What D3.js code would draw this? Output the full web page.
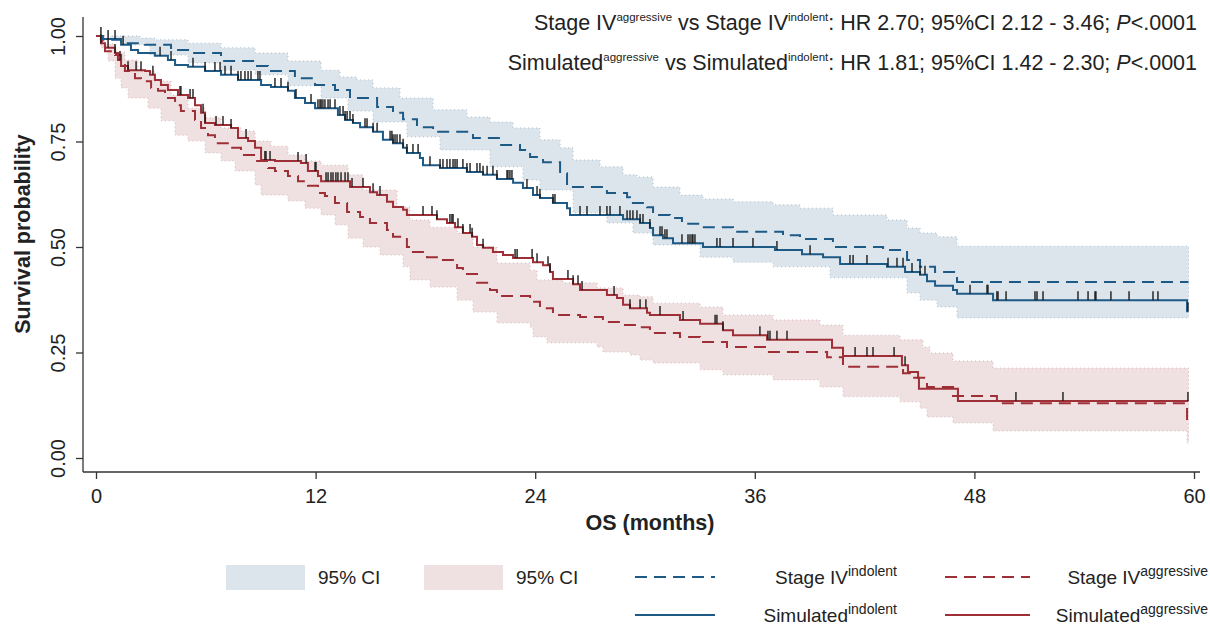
<!DOCTYPE html>
<html>
<head>
<meta charset="utf-8">
<script src="https://cdn.jsdelivr.net/npm/d3@7"></script>
<style>
  body { margin: 0; background: #fff; }
  svg { display: block; font-family: "Liberation Sans", Arial, Helvetica, sans-serif; }
</style>
</head>
<body>
<svg width="1210" height="625"></svg>
<script>
// [months, survival] step points
const stageIVIndolent = [
  [0, 1], [0.27, 0.991], [1.37, 0.983], [2.68, 0.979], [4.10, 0.967], [5.19, 0.960], [6.83, 0.941],
  [8.69, 0.929], [9.40, 0.917], [10.87, 0.900], [11.97, 0.884], [13.06, 0.872], [13.88, 0.853],
  [15.36, 0.832], [16.23, 0.818], [16.78, 0.803], [17.54, 0.784], [18.42, 0.773], [20.60, 0.758],
  [22.08, 0.742], [23.17, 0.730], [23.72, 0.713], [24.43, 0.701], [25.36, 0.675], [25.74, 0.642],
  [27.92, 0.628], [29.02, 0.618], [29.18, 0.604], [30.11, 0.594], [30.44, 0.576], [31.37, 0.569],
  [32.02, 0.555], [33.01, 0.547], [34.81, 0.536], [37.54, 0.528], [38.47, 0.519], [40.27, 0.500],
  [43.01, 0.493], [44.32, 0.469], [45.03, 0.453], [45.85, 0.441], [47.05, 0.417], [59.7, 0.417]
];
const indolentUpper = [
  [0, 1], [2.40, 0.995], [3.22, 0.991], [5.03, 0.983], [6.83, 0.972], [8.69, 0.960], [10.49, 0.941],
  [12.30, 0.919], [13.33, 0.903], [14.26, 0.896], [15.14, 0.877], [16.61, 0.853], [18.42, 0.825],
  [20.27, 0.808], [21.53, 0.796], [22.79, 0.782], [24.26, 0.754], [25.36, 0.735], [26.07, 0.706],
  [27.54, 0.690], [28.80, 0.671], [29.56, 0.666], [30.44, 0.642], [31.91, 0.623], [33.17, 0.614],
  [34.81, 0.607], [37.00, 0.600], [38.47, 0.592], [40.27, 0.576], [43.22, 0.564], [44.32, 0.545],
  [45.03, 0.533], [45.96, 0.524], [47.05, 0.502], [59.7, 0.502]
];
const indolentLower = [
  [0, 1], [0.77, 0.991], [1.37, 0.979], [2.95, 0.955], [5.03, 0.936], [6.83, 0.919], [8.69, 0.908],
  [10.49, 0.882], [12.30, 0.853], [13.77, 0.822], [15.14, 0.796], [16.99, 0.761], [18.80, 0.730],
  [21.53, 0.690], [23.33, 0.659], [24.26, 0.635], [26.07, 0.581], [27.92, 0.557], [29.34, 0.533],
  [30.44, 0.505], [33.01, 0.476], [34.81, 0.464], [37.00, 0.453], [40.11, 0.427], [44.32, 0.391],
  [45.03, 0.374], [45.96, 0.358], [47.05, 0.332], [59.7, 0.332]
];
const simulatedIndolent = [
  [0, 1], [0.38, 0.993], [1.37, 0.979], [1.91, 0.967], [2.30, 0.960], [3.22, 0.953], [3.93, 0.943],
  [4.32, 0.931], [5.03, 0.927], [5.96, 0.917], [6.83, 0.908], [7.76, 0.896], [9.02, 0.884],
  [9.56, 0.879], [10.49, 0.870], [10.87, 0.853], [11.42, 0.841], [11.97, 0.829], [13.22, 0.813],
  [13.61, 0.801], [14.04, 0.794], [14.43, 0.784], [15.14, 0.773], [15.68, 0.754], [16.23, 0.746],
  [16.78, 0.735], [16.99, 0.723], [17.70, 0.711], [17.87, 0.694], [18.80, 0.687], [20.27, 0.678],
  [21.15, 0.671], [21.91, 0.661], [22.79, 0.652], [23.33, 0.640], [23.88, 0.623], [24.26, 0.616],
  [24.97, 0.604], [25.74, 0.592], [25.90, 0.576], [28.80, 0.566], [29.73, 0.557], [30.27, 0.545],
  [30.44, 0.528], [30.98, 0.521], [31.53, 0.509], [33.17, 0.500], [37.10, 0.493], [38.58, 0.483],
  [39.73, 0.476], [40.66, 0.460], [43.22, 0.453], [44.21, 0.441], [45.03, 0.434], [45.41, 0.419],
  [45.85, 0.408], [46.83, 0.398], [47.05, 0.389], [49.02, 0.374], [59.62, 0.348], [59.7, 0.348]
];
const stageIVAggressive = [
  [0, 1], [0.33, 0.979], [0.49, 0.964], [1.04, 0.955], [1.37, 0.941], [1.58, 0.917], [2.13, 0.900],
  [2.46, 0.893], [3.01, 0.877], [3.39, 0.870], [3.77, 0.853], [4.32, 0.836], [4.64, 0.822],
  [5.41, 0.801], [5.74, 0.782], [6.12, 0.765], [6.50, 0.746], [7.38, 0.735], [7.92, 0.718],
  [8.69, 0.704], [9.40, 0.687], [9.78, 0.680], [10.49, 0.668], [11.04, 0.656], [11.58, 0.645],
  [12.13, 0.628], [12.51, 0.621], [13.06, 0.604], [13.72, 0.583], [14.43, 0.571], [14.97, 0.557],
  [15.90, 0.540], [16.23, 0.524], [16.99, 0.500], [17.32, 0.488], [18.09, 0.476], [18.96, 0.469],
  [19.73, 0.450], [20.05, 0.436], [20.82, 0.415], [21.53, 0.398], [21.91, 0.384], [23.72, 0.370],
  [24.26, 0.355], [24.97, 0.339], [26.45, 0.334], [27.70, 0.322], [28.80, 0.315], [29.56, 0.310],
  [30.27, 0.296], [31.91, 0.287], [33.01, 0.275], [34.48, 0.263], [36.67, 0.251], [39.95, 0.239],
  [40.82, 0.216], [44.10, 0.201], [44.64, 0.190], [45.41, 0.168], [46.83, 0.147], [49.23, 0.130],
  [59.62, 0.090], [59.7, 0.090]
];
const aggressiveUpper = [
  [0, 1], [0.49, 0.981], [1.04, 0.962], [1.58, 0.943], [2.30, 0.917], [3.22, 0.893], [4.10, 0.860],
  [5.03, 0.829], [5.96, 0.806], [6.83, 0.782], [7.92, 0.775], [8.69, 0.751], [9.56, 0.739],
  [10.49, 0.718], [11.42, 0.704], [12.30, 0.694], [13.77, 0.671], [14.59, 0.635], [16.45, 0.595],
  [17.16, 0.564], [18.25, 0.547], [19.73, 0.533], [20.60, 0.500], [21.91, 0.462], [23.72, 0.445],
  [24.10, 0.422], [25.52, 0.415], [27.38, 0.403], [28.80, 0.386], [29.73, 0.382], [30.44, 0.367],
  [33.01, 0.358], [34.26, 0.339], [37.00, 0.327], [39.56, 0.315], [40.82, 0.291], [43.93, 0.280],
  [45.19, 0.263], [45.57, 0.249], [46.83, 0.230], [49.02, 0.213], [59.7, 0.213]
];
const aggressiveLower = [
  [0, 1], [0.27, 0.972], [0.66, 0.941], [1.04, 0.900], [1.37, 0.877], [1.75, 0.853], [2.84, 0.829],
  [3.55, 0.799], [4.32, 0.765], [5.03, 0.751], [5.96, 0.723], [6.83, 0.704], [7.60, 0.680],
  [8.69, 0.647], [9.02, 0.623], [10.49, 0.609], [11.42, 0.592], [12.30, 0.576], [13.06, 0.552],
  [13.77, 0.521], [14.59, 0.500], [15.52, 0.481], [16.78, 0.453], [17.16, 0.422], [18.25, 0.405],
  [19.73, 0.374], [20.60, 0.346], [21.91, 0.320], [23.72, 0.310], [23.88, 0.287], [24.64, 0.273],
  [27.38, 0.263], [27.70, 0.251], [29.18, 0.244], [29.73, 0.232], [30.44, 0.225], [33.01, 0.209],
  [34.26, 0.197], [37.00, 0.185], [39.56, 0.168], [40.82, 0.145], [43.93, 0.133], [45.03, 0.118],
  [45.41, 0.097], [46.83, 0.083], [49.02, 0.064], [59.62, 0.036], [59.7, 0.036]
];
const simulatedAggressive = [
  [0, 1], [0.27, 0.983], [0.49, 0.972], [1.04, 0.960], [1.20, 0.943], [1.37, 0.929], [1.75, 0.919],
  [2.68, 0.917], [2.95, 0.908], [3.22, 0.896], [3.55, 0.884], [3.93, 0.872], [4.48, 0.860],
  [5.03, 0.853], [5.41, 0.836], [5.74, 0.818], [5.96, 0.794], [6.50, 0.789], [7.38, 0.782],
  [7.76, 0.758], [8.31, 0.751], [8.69, 0.735], [9.02, 0.706], [9.78, 0.704], [11.20, 0.699],
  [11.58, 0.680], [12.13, 0.668], [12.30, 0.656], [13.88, 0.642], [14.97, 0.630], [15.36, 0.623],
  [15.90, 0.607], [16.23, 0.595], [16.78, 0.588], [16.99, 0.576], [18.63, 0.566], [19.18, 0.557],
  [19.62, 0.547], [20.05, 0.533], [20.55, 0.524], [20.82, 0.505], [21.15, 0.498], [21.69, 0.488],
  [22.24, 0.481], [22.79, 0.474], [23.88, 0.464], [24.43, 0.457], [24.81, 0.441], [24.97, 0.424],
  [26.07, 0.412], [26.45, 0.398], [27.92, 0.386], [28.47, 0.379], [28.80, 0.363], [29.18, 0.355],
  [30.11, 0.344], [30.27, 0.339], [31.91, 0.327], [33.01, 0.318], [34.26, 0.303], [34.81, 0.291],
  [36.67, 0.280], [40.22, 0.261], [40.82, 0.242], [44.04, 0.220], [44.37, 0.204], [44.92, 0.190],
  [44.97, 0.164], [47.10, 0.135], [59.7, 0.135]
];
// censoring times (months)
const censorIndolent = [
  0.27, 0.66, 1.04, 1.48, 3.50, 4.10, 5.30, 5.96, 6.50, 6.78, 7.05, 7.38, 7.76, 7.92, 8.14, 8.31, 8.47,
  8.85, 8.96, 9.78, 10.11, 10.49, 10.93, 11.75, 12.13, 12.24, 12.30, 12.40, 12.51, 12.68, 12.79, 13.06,
  13.33, 13.50, 13.61, 13.72, 13.88, 14.04, 14.70, 14.81, 15.14, 15.36, 16.07, 16.17, 16.23, 16.34,
  16.45, 16.61, 16.78, 16.99, 17.32, 17.60, 18.25, 18.80, 18.96, 19.18, 19.34, 19.51, 19.62, 19.73,
  20.05, 20.27, 20.44, 20.82, 20.98, 21.15, 21.37, 21.69, 21.91, 22.46, 22.51, 22.62, 22.73, 23.55,
  24.10, 24.26, 24.97, 25.08, 26.45, 26.83, 27.54, 27.92, 28.09, 28.63, 29.02, 29.18, 29.34, 29.56,
  29.73, 29.89, 30.27, 30.82, 30.93, 31.09, 31.20, 32.02, 32.35, 32.46, 32.57, 32.62, 32.73, 33.93,
  34.10, 34.81, 35.90, 37.21, 39.02, 41.20, 41.37, 42.13, 43.28, 43.77, 44.10, 44.59, 45.03, 45.30,
  47.76, 48.69, 48.74, 49.23, 49.29, 49.73, 51.31, 51.42, 51.75, 53.66, 54.21, 54.59, 54.64, 55.46,
  56.45, 57.76, 58.03, 59.67
];
const censorAggressive = [
  0.27, 0.66, 1.04, 1.31, 1.75, 2.19, 2.46, 3.11, 4.59, 4.64, 5.14, 5.30, 5.85, 5.96, 6.56, 6.94, 7.38,
  8.20, 9.23, 9.29, 9.51, 11.04, 11.48, 11.97, 12.02, 12.57, 12.68, 12.84, 12.95, 13.11, 13.22, 13.39,
  13.61, 13.77, 13.99, 14.59, 15.14, 15.52, 17.87, 18.36, 18.63, 19.34, 19.45, 19.51, 19.78, 20.05,
  20.44, 20.55, 21.15, 22.90, 23.01, 23.83, 24.10, 24.70, 24.81, 25.79, 26.07, 26.34, 26.56, 28.31,
  29.18, 29.73, 30.05, 30.82, 32.08, 33.83, 33.93, 34.26, 36.28, 36.72, 36.83, 37.21, 37.76, 41.48,
  42.13, 42.46, 43.61, 44.21, 50.27, 52.84, 59.67
];
const xTicks = [0, 12, 24, 36, 48, 60];
const yTicks = [0, 0.25, 0.5, 0.75, 1];

const blue = '#1d5a86';
const red = '#9e2f37';
const font = '"Liberation Sans", Arial, Helvetica, sans-serif';

const svg = d3.select('svg');

const x = d3.scaleLinear().domain([0, 60]).range([96, 1194]);
const y = d3.scaleLinear().domain([0, 1]).range([458, 36]);

const stepAt = (arr, t) => {
  let v = arr[0][1];
  for (const p of arr) { if (p[0] <= t + 1e-9) v = p[1]; else break; }
  return v;
};

const bandOf = (upper, lower) => {
  const times = Array.from(new Set(upper.map(d => d[0]).concat(lower.map(d => d[0])))).sort((a, b) => a - b);
  return times.map(t => ({ t, hi: stepAt(upper, t), lo: stepAt(lower, t) }));
};

const area = d3.area()
    .curve(d3.curveStepAfter)
    .x(d => x(d.t))
    .y0(d => y(d.lo))
    .y1(d => y(d.hi));

const line = d3.line()
    .curve(d3.curveStepAfter)
    .x(d => x(d[0]))
    .y(d => y(d[1]));

// bands
const bands = [
  { data: bandOf(indolentUpper, indolentLower), fill: '#dde5ec', stroke: '#a9bccb' },
  { data: bandOf(aggressiveUpper, aggressiveLower), fill: '#efe0e1', stroke: '#dbb3b6' }
];
svg.selectAll('path.band').data(bands).enter().append('path')
    .attr('class', 'band')
    .attr('d', d => area(d.data))
    .attr('fill', d => d.fill)
    .attr('stroke', d => d.stroke)
    .attr('stroke-width', 1)
    .attr('stroke-dasharray', '1,3');

// curves
const curves = [
  { data: stageIVIndolent, color: blue, dash: '12,7' },
  { data: stageIVAggressive, color: red, dash: '12,7' },
  { data: simulatedIndolent, color: blue, dash: null },
  { data: simulatedAggressive, color: red, dash: null }
];
svg.selectAll('path.curve').data(curves).enter().append('path')
    .attr('class', 'curve')
    .attr('d', d => line(d.data))
    .attr('fill', 'none')
    .attr('stroke', d => d.color)
    .attr('stroke-width', 2)
    .attr('stroke-dasharray', d => d.dash);

// censor marks
const censors = censorIndolent.map(t => ({ t, s: stepAt(simulatedIndolent, t) }))
    .concat(censorAggressive.map(t => ({ t, s: stepAt(simulatedAggressive, t) })));
svg.selectAll('line.censor').data(censors).enter().append('line')
    .attr('class', 'censor')
    .attr('x1', d => x(d.t)).attr('x2', d => x(d.t))
    .attr('y1', d => y(d.s)).attr('y2', d => y(d.s) - 9)
    .attr('stroke', '#1a1a1a')
    .attr('stroke-width', 1.4);

// axes
const axisColor = '#333';
svg.append('line').attr('x1', 83).attr('x2', 83).attr('y1', 17).attr('y2', 472)
    .attr('stroke', axisColor).attr('stroke-width', 1.3);
svg.append('line').attr('x1', 83).attr('x2', 1200).attr('y1', 472).attr('y2', 472)
    .attr('stroke', axisColor).attr('stroke-width', 1.3);

const yAxis = svg.append('g').attr('transform', 'translate(83,0)')
    .call(d3.axisLeft(y).tickValues(yTicks).tickFormat(d3.format('.2f')).tickSize(7));
yAxis.select('.domain').remove();
yAxis.selectAll('line').attr('stroke', axisColor).attr('stroke-width', 1.3);
yAxis.selectAll('text')
    .attr('x', null).attr('dy', null)
    .attr('transform', 'translate(-25,0) rotate(-90)')
    .attr('text-anchor', 'middle')
    .attr('dominant-baseline', 'central')
    .attr('fill', '#222')
    .style('font-family', font).style('font-size', '20px');

const xAxis = svg.append('g').attr('transform', 'translate(0,472)')
    .call(d3.axisBottom(x).tickValues(xTicks).tickFormat(d3.format('d')).tickSize(7).tickPadding(10));
xAxis.select('.domain').remove();
xAxis.selectAll('line').attr('stroke', axisColor).attr('stroke-width', 1.3);
xAxis.selectAll('text').attr('fill', '#222')
    .style('font-family', font).style('font-size', '20px');

svg.append('text')
    .attr('transform', 'translate(30,234) rotate(-90)')
    .attr('text-anchor', 'middle')
    .attr('font-weight', 'bold').attr('font-size', 21.5).attr('fill', '#222')
    .text('Survival probability');
svg.append('text')
    .attr('x', 650).attr('y', 530)
    .attr('text-anchor', 'middle')
    .attr('font-weight', 'bold').attr('font-size', 21.5).attr('fill', '#222')
    .text('OS (months)');

// rich text helper: parts = [text, 'sup'|'it'|null]
const rich = (sel, parts, supSize, rise) => {
  let raised = false;
  parts.forEach(([str, kind]) => {
    const ts = sel.append('tspan').text(str);
    if (kind === 'sup') {
      ts.attr('font-size', supSize);
      if (!raised) { ts.attr('dy', -rise); raised = true; }
    } else if (raised) { ts.attr('dy', rise); raised = false; }
    if (kind === 'it') ts.attr('font-style', 'italic');
  });
  return sel;
};

// HR annotations
const notes = [
  [['Stage IV'], ['aggressive', 'sup'], [' vs Stage IV'], ['indolent', 'sup'], [': HR 2.70; 95%CI 2.12 - 3.46; '], ['P', 'it'], ['<.0001']],
  [['Simulated'], ['aggressive', 'sup'], [' vs Simulated'], ['indolent', 'sup'], [': HR 1.81; 95%CI 1.42 - 2.30; '], ['P', 'it'], ['<.0001']]
];
notes.forEach((parts, i) => {
  const t = svg.append('text')
      .attr('x', 1197).attr('y', 30 + i * 40)
      .attr('text-anchor', 'end')
      .attr('font-size', 21.5).attr('fill', '#222');
  rich(t, parts, 11.5, 9);
});

// legend
const legend = svg.append('g').attr('font-size', 19).attr('fill', '#222');
const swatches = [
  { x: 226, fill: '#dde5ec' },
  { x: 424, fill: '#efe0e1' }
];
swatches.forEach(s => {
  legend.append('rect').attr('x', s.x).attr('y', 565).attr('width', 79).attr('height', 25).attr('fill', s.fill);
  legend.append('text').attr('x', s.x + 92).attr('y', 584).attr('fill', '#222').text('95% CI');
});
const legendLines = [
  { x0: 635, x1: 715, yy: 577, color: blue, dash: '12,7', tx: 897, parts: [['Stage IV'], ['indolent', 'sup']] },
  { x0: 945, x1: 1030, yy: 577, color: red, dash: '12,7', tx: 1208, parts: [['Stage IV'], ['aggressive', 'sup']] },
  { x0: 635, x1: 715, yy: 615, color: blue, dash: null, tx: 897, parts: [['Simulated'], ['indolent', 'sup']] },
  { x0: 945, x1: 1030, yy: 615, color: red, dash: null, tx: 1208, parts: [['Simulated'], ['aggressive', 'sup']] }
];
legendLines.forEach(l => {
  legend.append('line').attr('x1', l.x0).attr('x2', l.x1).attr('y1', l.yy).attr('y2', l.yy)
      .attr('stroke', l.color).attr('stroke-width', 2).attr('stroke-dasharray', l.dash);
  const t = legend.append('text').attr('x', l.tx).attr('y', l.yy + 7).attr('text-anchor', 'end').attr('fill', '#222');
  rich(t, l.parts, 14, 8);
});
</script>
</body>
</html>
